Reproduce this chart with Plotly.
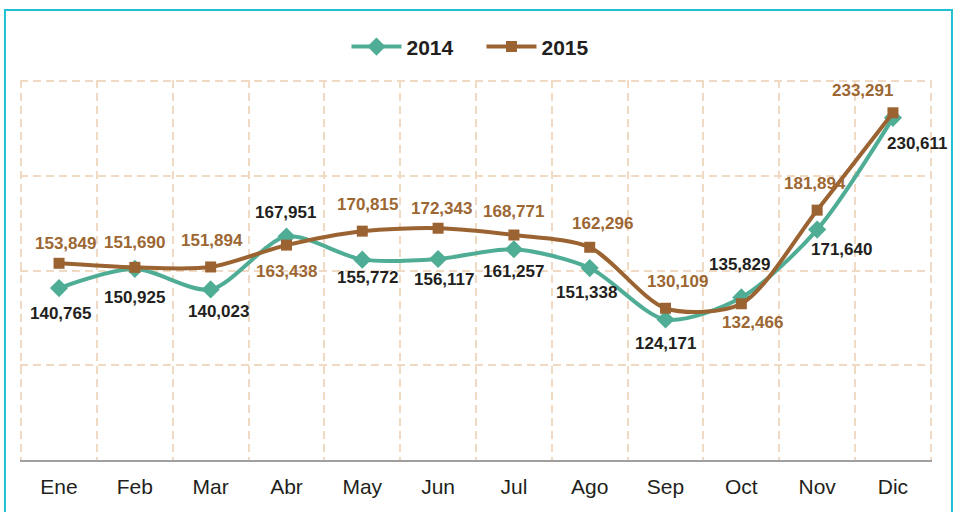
import plotly.graph_objects as go

MONTHS = ["Ene", "Feb", "Mar", "Abr", "May", "Jun", "Jul", "Ago", "Sep", "Oct", "Nov", "Dic"]
VALUES_2014 = [140765, 150925, 140023, 167951, 155772, 156117, 161257, 151338, 124171, 135829, 171640, 230611]
VALUES_2015 = [153849, 151690, 151894, 163438, 170815, 172343, 168771, 162296, 130109, 132466, 181894, 233291]

TEAL = "#50ad95"
BROWN = "#9b6331"
BROWN_TXT = "#9c6733"
DARK = "#231f20"
GRID = "#f0dac4"
FONT = "Liberation Sans, Arial, sans-serif"

# label offsets in px (xshift, yshift) per point
OFF_2014 = [(1, -25), (0, -29), (8, -22), (-1, 24), (5, -18), (6, -21), (0, -22),
            (-3, -24), (0, -24), (-2, 33), (24, -20), (25, -26)]
OFF_2015 = [(6, 20), (0, 25), (1, 26), (0, -26), (5, 27), (3, 20), (0, 24),
            (13, 24), (12, 27), (11, -19), (-2, 27), (-30, 22)]

x = list(range(len(MONTHS)))

fig = go.Figure()
fig.add_trace(go.Scatter(
    x=x, y=VALUES_2014, name="2014", mode="lines+markers",
    line=dict(color=TEAL, width=4, shape="spline", smoothing=0.8),
    marker=dict(symbol="diamond", size=14, color=TEAL),
))
fig.add_trace(go.Scatter(
    x=x, y=VALUES_2015, name="2015", mode="lines+markers",
    line=dict(color=BROWN, width=4, shape="spline", smoothing=0.8),
    marker=dict(symbol="square", size=11, color=BROWN),
))

for vals, offs, color in ((VALUES_2014, OFF_2014, DARK), (VALUES_2015, OFF_2015, BROWN_TXT)):
    for i, v in enumerate(vals):
        fig.add_annotation(
            x=i, y=v, text=f"{v:,}", showarrow=False,
            xshift=offs[i][0], yshift=offs[i][1],
            font=dict(family=FONT, size=17, color=color, weight="bold"),
        )

# cyan frame
fig.add_shape(
    type="rect", xref="paper", yref="paper",
    x0=-0.0165, x1=1.0219, y0=-0.2, y1=1.184,
    line=dict(color="#1fc0d2", width=2), layer="below",
)

fig.update_layout(
    width=956, height=512,
    margin=dict(l=20, r=24, t=80, b=52, autoexpand=False),
    paper_bgcolor="white", plot_bgcolor="white",
    font=dict(family=FONT, color=DARK),
    showlegend=True,
    legend=dict(
        orientation="h", x=0.506, xanchor="center", y=1.087, yanchor="middle",
        font=dict(family=FONT, size=21, color=DARK, weight="bold"),
        bgcolor="rgba(0,0,0,0)", itemwidth=50, entrywidth=70,
    ),
)
# range padded a touch so the edge gridlines aren't clipped away
fig.update_xaxes(
    range=[-0.515, 11.515], tickmode="array", tickvals=x, ticktext=MONTHS,
    showgrid=False, zeroline=False, showline=True, linecolor="#a0a0a0", linewidth=2,
    ticks="", ticklabelstandoff=7, tickfont=dict(family=FONT, size=21, color=DARK),
    minor=dict(tickmode="array", tickvals=[i - 0.5 for i in range(13)],
               showgrid=True, gridcolor=GRID, griddash="8px,5px", gridwidth=2, ticks=""),
)
fig.update_yaxes(
    range=[50000, 250600], tickvals=[50000, 100000, 150000, 200000, 250000],
    showticklabels=False, showgrid=True, gridcolor=GRID, griddash="8px,5px", gridwidth=2,
    zeroline=False,
)

# drop the default 8px body margin so the figure fills the window
fig.write_html("out.html", config={"displayModeBar": False},
               post_script="document.body.style.margin='0';")
